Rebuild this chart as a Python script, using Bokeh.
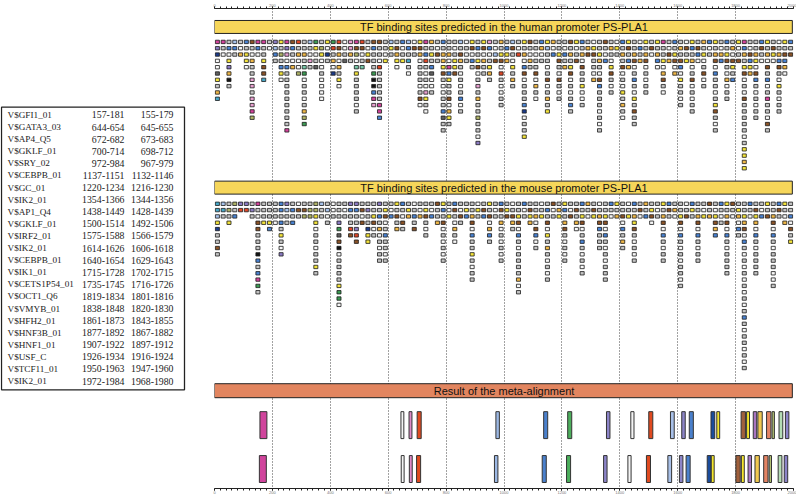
from bokeh.plotting import figure
from bokeh.models import Range1d, LinearAxis, SingleIntervalTicker, ColumnDataSource
from bokeh.layouts import row
from bokeh.embed import file_html
from bokeh.resources import INLINE
from bokeh.core.properties import value

# ---------------- data ----------------
TF_NAMES = ["V$GFI1_01", "V$GATA3_03", "V$AP4_Q5", "V$GKLF_01", "V$SRY_02", "V$CEBPB_01",
            "V$GC_01", "V$IK2_01", "V$AP1_Q4", "V$GKLF_01", "V$IRF2_01", "V$IK2_01",
            "V$CEBPB_01", "V$IK1_01", "V$CETS1P54_01", "V$OCT1_Q6", "V$VMYB_01",
            "V$HFH2_01", "V$HNF3B_01", "V$HNF1_01", "V$USF_C", "V$TCF11_01", "V$IK2_01"]
HUMAN_START = [157, 644, 672, 700, 972, 1137, 1220, 1354, 1438, 1500, 1575, 1614, 1640,
               1715, 1735, 1819, 1838, 1861, 1877, 1907, 1926, 1950, 1972]
HUMAN_END = [181, 654, 682, 714, 984, 1151, 1234, 1366, 1449, 1514, 1588, 1626, 1654,
             1728, 1745, 1834, 1848, 1873, 1892, 1922, 1934, 1963, 1984]
MOUSE_START = [155, 645, 673, 698, 967, 1132, 1216, 1344, 1428, 1492, 1566, 1606, 1629,
               1702, 1716, 1801, 1820, 1843, 1867, 1897, 1916, 1947, 1968]
MOUSE_END = [179, 655, 683, 712, 979, 1146, 1230, 1356, 1439, 1506, 1579, 1618, 1643,
             1715, 1726, 1816, 1830, 1855, 1882, 1912, 1924, 1960, 1980]
TF_COLORS = ["#d0449c", "#f4f4f4", "#e088c8", "#e04a20", "#9cb8e4", "#4a80cc", "#4cae5c",
             "#8c84c8", "#f4f4f4", "#e04a20", "#a8c0e8", "#8c84c8", "#4a80cc", "#1a4c9c",
             "#f4e62c", "#a0603c", "#f4e62c", "#a874c0", "#f0c850", "#e48464", "#b4c474",
             "#b4dcb4", "#8c84c8"]

SLOT_BP = 20        # each column of the site map covers 20 bp
SEQ_LEN = 2000

PALETTE = {"m": "#d4449c", "p": "#e8a0d0", "v": "#8c7cc4", "b": "#4a84d4", "l": "#a8c4ec",
           "n": "#1c3c8c", "c": "#48a8c8", "g": "#3c9c54", "t": "#78c8a8", "y": "#f4e43c",
           "o": "#f0b848", "r": "#e04828", "s": "#e48868", "w": "#f8f8f8", "e": "#c4c4c4",
           "d": "#606060", "k": "#141414", "h": "#8c5428", "q": "#b0b468", "a": "#b4e0b4"}

# predicted sites, one string per 20-bp column, top row first ('.' = no site)
HUMAN_SITES = [
    "mvnwwdyeoc", "mew", "ebwyvoke", "lbe", "ewo", "beyyw", "hewoeeppeppmq", "mbw",
    "meeyhhc", "ew", "vlbe", "yeqebyw", "mvpwbeeeeeeeeem", "hbewo", "reowwq",
    "eeoetgweeweoqg", "lewpe", "gywed", "eqywwewwww", "ywne", "greown", "rhowoeyw",
    "wwed", "ppoe", "mhqwtyeeeewe", "rhwet", "ewyh", "hbeeegkkbmp", "heewreeeeemmb",
    "eewy", "lye", "ehoyw", "bwey", "lbecew", "whe", "yhoweeewehw", "mebrewewpyew",
    "oeyebdwwe", "ewhe", "beooyhewweebdee", "eeowmbyeehwoye", "eweyyh", "lehoewewebwe",
    "wewe", "yhwbe", "ebeyhwepeoeeqeewv", "yhwoee", "pbweyoe", "ewlh", "oeyhwrewwee",
    "ebyo", "lhewyeoe", "ewr", "yeowbhweeebnweey", "hewoe", "eeweehwoew", "bowe",
    "yleewehweoey", "owb", "eeyhewhewe", "ewbeo", "heoeyhwewebe", "yweh", "beowheeywwe",
    "eoh", "wyheewo", "eeyoewhbeeewewe", "hewb", "eoewyhewe", "wye", "beoehwewyeoew",
    "yhebo", "eeohwebewyehee", "wbeo", "yeohwewee", "ehw", "yeobw", "meeywohew", "ewho",
    "beyhwo", "eoehbwyeewe", "whey", "ybeowehwewee", "ehbw", "oeywehwe", "bwe",
    "yeohwbeeweyhewe", "ewob", "beyhewowee", "eowhyeb", "yweh", "mboeyhwewheeeeeweyyoy",
    "ewhbyo", "eeoywhbewewee", "bhew", "yeowhebwemeewhe", "ehyw", "weobhewyewee",
    "yehbow", "beh"]

MOUSE_SITES = [
    "cclyneehe", "lce", "eqey", "qeb", "vr", "vr", "eve", "mewhheeekbebmge", "eeey",
    "eeeyb", "eeew", "bbebeyewv", "vlee", "ebeb", "whe", "ehq", "eqq", "qqyyweeweeye",
    "lee", "elwe", "wwe", "eeevgdhkweeeeyggw", "ewe", "vbeerh", "vbeevrh", "ehwh",
    "eveenyy", "eeyhwe", "vebeowewee", "eyhwebeewe", "ewb", "yeheo", "bewhe", "eyo",
    "webeh", "ewo", "eyhewe", "ewb", "heeo", "ybehwewewe", "ewy", "bhewoew", "ewhe",
    "eyb", "eeohwbeeyewee", "wye", "ehb", "yehwobe", "ewe", "bheowewewe", "eyh",
    "wehoe", "eeyhwbeweeeeowe", "bwe", "ehyo", "eeowhbwe", "wey", "ebehwyeoewewe", "hwe",
    "eoy", "ybeohewewe", "ewh", "eheow", "beyhwebewewe", "oew", "ehy", "weohbeee",
    "eeyhwbeweweee", "bew", "yeo", "eehwbeoe", "wey", "beoyhewewe", "ehw", "oeb",
    "eyhw", "ewe", "yeohwbewee", "bhe", "eow", "eeyhwbeweweewe", "weh", "bye",
    "eeohwbewee", "ewy", "heo", "ewyhob", "bewe", "yeohwbeweeee", "hew", "eyowbe",
    "eeyohwbewewewewewebeweewewe", "bew", "ehyowbeweeee", "ewb", "yeh", "eeohwbeweeewwe",
    "bhe", "yewo", "eebwhey"]

HUMAN_TITLE = "TF binding sites predicted in the human promoter PS-PLA1"
MOUSE_TITLE = "TF binding sites predicted in the mouse promoter PS-PLA1"
META_TITLE = "Result of the meta-alignment"

# ---------------- layout constants (page pixel units on y) ----------------
PAGE_W, PAGE_H = 796, 496
TABLE_W = 208
ROW_PITCH = 6.33
HUMAN_ROW0 = 40.5
MOUSE_ROW0 = 202.7
BOX_H = 3.4
BOX_W = 14
BANNERS = [(19, 32, "#f6d65a", HUMAN_TITLE), (180, 193, "#f6d65a", MOUSE_TITLE),
           (383, 397, "#e2855f", META_TITLE)]
META_HUMAN_Y = (411, 438)
META_MOUSE_Y = (455, 482)


def site_source(cols, row0):
    xs, ys, cs = [], [], []
    for i, col in enumerate(cols):
        for r, ch in enumerate(col):
            if ch == ".":
                continue
            xs.append(i * SLOT_BP + SLOT_BP / 2)
            ys.append(row0 + r * ROW_PITCH)
            cs.append(PALETTE[ch])
    return ColumnDataSource(dict(x=xs, y=ys, c=cs))


# ---------------- track figure ----------------
BORDER_TOP = 7
BORDER_BOTTOM = 8
p = figure(width=PAGE_W - TABLE_W, height=PAGE_H, x_range=Range1d(0, SEQ_LEN),
           y_range=Range1d(PAGE_H - BORDER_BOTTOM, BORDER_TOP),
           output_backend="svg", toolbar_location=None, title=None,
           min_border_left=6, min_border_right=3, min_border_top=BORDER_TOP,
           min_border_bottom=BORDER_BOTTOM, y_axis_location=None,
           outline_line_color=None, background_fill_color="white")

ticker = SingleIntervalTicker(interval=200, num_minor_ticks=10)
ax = p.xaxis[0]
ax.ticker = ticker
top_axis = LinearAxis(ticker=ticker)
p.add_layout(top_axis, "above")
for a in (ax, top_axis):
    a.axis_line_color = "#222222"
    a.axis_line_width = 1
    a.major_tick_line_color = "#222222"
    a.minor_tick_line_color = "#222222"
    a.major_tick_in = 0
    a.major_tick_out = 2
    a.minor_tick_in = 0
    a.minor_tick_out = 2
    a.major_label_text_font_size = "4px"
    a.major_label_text_color = "#777777"
    a.major_label_standoff = 0
p.xgrid.ticker = ticker
p.xgrid.grid_line_color = "#444444"
p.xgrid.grid_line_dash = "1 2"
p.xgrid.grid_line_width = 1
p.ygrid.visible = False

# banners
for top, bot, col, label in BANNERS:
    p.quad(left=[0], right=[SEQ_LEN - 4], top=[top], bottom=[bot], fill_color=col,
           line_color="#222222", line_width=1)
    p.text(x=[SEQ_LEN / 2], y=[(top + bot) / 2 + 0.5], text=[label], text_align="center",
           text_baseline="middle", text_font=value("Liberation Sans"),
           text_font_size="11px", text_color="#111111")

# predicted sites
for cols, row0 in ((HUMAN_SITES, HUMAN_ROW0), (MOUSE_SITES, MOUSE_ROW0)):
    src = site_source(cols, row0)
    p.rect(x="x", y="y", width=BOX_W, height=BOX_H, source=src, fill_color="c",
           line_color="#1a1a1a", line_width=0.8)

# meta-alignment
meta = ColumnDataSource(dict(hs=HUMAN_START, he=HUMAN_END, ms=MOUSE_START, me=MOUSE_END,
                             c=TF_COLORS))
p.quad(left="hs", right="he", top=META_HUMAN_Y[0], bottom=META_HUMAN_Y[1], source=meta,
       fill_color="c", line_color="#333333", line_width=1)
p.quad(left="ms", right="me", top=META_MOUSE_Y[0], bottom=META_MOUSE_Y[1], source=meta,
       fill_color="c", line_color="#333333", line_width=1)

# ---------------- table figure ----------------
t = figure(width=TABLE_W, height=PAGE_H, x_range=Range1d(0, TABLE_W),
           y_range=Range1d(PAGE_H, 0), output_backend="svg",
           toolbar_location=None, title=None, min_border=0, x_axis_location=None,
           y_axis_location=None, outline_line_color=None)
t.grid.visible = False
TABLE_TOP, TABLE_BOT = 102, 394
ROW_H = 12.5
t.quad(left=[1], right=[184], top=[TABLE_TOP], bottom=[TABLE_BOT], fill_color=None,
       line_color="#222222", line_width=1.3)
ys = [TABLE_TOP + 8 + i * ROW_H for i in range(len(TF_NAMES))]
hum = [f"{s}-{e}" for s, e in zip(HUMAN_START, HUMAN_END)]
mou = [f"{s}-{e}" for s, e in zip(MOUSE_START, MOUSE_END)]
tsrc = ColumnDataSource(dict(y=ys, n=TF_NAMES, h=hum, m=mou))
common = dict(y="y", source=tsrc, text_baseline="middle", text_font=value("Liberation Serif"),
              text_color="#222222")
t.text(x=7, text="n", text_align="left", text_font_size="9.2px", **common)
t.text(x=124, text="h", text_align="right", text_font_size="9.8px", **common)
t.text(x=173, text="m", text_align="right", text_font_size="9.8px", **common)

layout = row(t, p)
open("out.html", "w").write(file_html(layout, INLINE))
